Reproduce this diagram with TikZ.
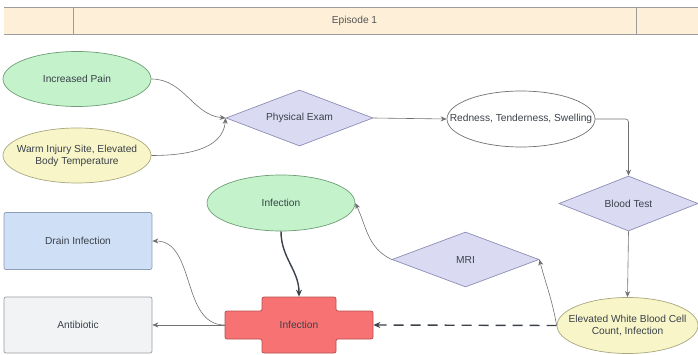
\documentclass[tikz,border=0pt]{standalone}
\usepackage{fontspec}
\setmainfont{Liberation Sans}
\usetikzlibrary{shapes.geometric,arrows.meta,calc}

\definecolor{txt}{HTML}{3A414A}
\definecolor{hdrtxt}{HTML}{555555}
\definecolor{hdrF}{HTML}{FEF0D8}
\definecolor{hdrL}{HTML}{9C9C9C}
\definecolor{greenF}{HTML}{C3F2CB}
\definecolor{greenD}{HTML}{6E9C76}
\definecolor{yelF}{HTML}{F8F6C8}
\definecolor{yelD}{HTML}{A9A77E}
\definecolor{lavF}{HTML}{DADAF3}
\definecolor{lavD}{HTML}{8E8EB4}
\definecolor{blueF}{HTML}{CFDFF6}
\definecolor{blueD}{HTML}{8C9DB8}
\definecolor{grayF}{HTML}{F2F3F5}
\definecolor{grayD}{HTML}{9A9CA0}
\definecolor{redF}{HTML}{F77272}
\definecolor{redD}{HTML}{B84E4E}
\definecolor{wire}{HTML}{707070}
\definecolor{heavy}{HTML}{3A414A}

\tikzset{
  shapebase/.style={inner sep=0pt, text=txt, align=center, line width=0.7pt},
  % negative horizontal padding keeps the ellipse at its fixed size even with long labels
  oval/.style={shapebase, ellipse, inner xsep=-25pt, minimum width=148pt, minimum height=55pt},
  greenoval/.style={oval, fill=greenF, draw=greenD},
  yellowoval/.style={oval, fill=yelF, draw=yelD},
  whiteoval/.style={oval, fill=white, draw=wire},
  decision/.style={shapebase, diamond, aspect=2.6, minimum width=147pt, minimum height=56pt, fill=lavF, draw=lavD},
  card/.style={shapebase, rectangle, rounded corners=2pt, minimum width=148pt, minimum height=56pt},
  wirearrow/.style={draw=wire, line width=0.6pt, -{Stealth[length=6pt,width=5pt]}},
  heavyarrow/.style={draw=heavy, line width=1.4pt, -{Stealth[length=7pt,width=6pt]}},
  dasharrow/.style={draw=heavy, line width=1.4pt, dash pattern=on 10pt off 7pt, -{Stealth[length=7pt,width=6pt]}},
}

\begin{document}
\begin{tikzpicture}[x=1pt, y=1pt, font=\fontsize{10.2}{12}\selectfont]
\useasboundingbox (0,0) rectangle (698,-355);

% header band
\fill[hdrF] (4,-7) rectangle (698,-34);
\draw[hdrL, line width=0.8pt] (4,-7) -- (698,-7) (4,-34) -- (698,-34)
  (73,-7) -- (73,-34) (636,-7) -- (636,-34);
\node[text=hdrtxt, inner sep=0pt] (ep) at (354.5,-20.5) {Episode 1};

% nodes
\node[greenoval] (pain) at (77,-79) {Increased Pain};
\node[yellowoval] (warm) at (77,-155.5) {Warm Injury Site, Elevated\\Body Temperature};
\node[decision] (pe) at (299.5,-118) {Physical Exam};
\node[whiteoval, minimum height=56pt] (rts) at (521,-119) {Redness, Tenderness, Swelling};
\node[decision, minimum width=139pt, minimum height=55pt] (bt) at (628.5,-203.5) {Blood Test};
\node[greenoval, minimum height=56pt] (ginf) at (281,-203) {Infection};
\node[card, fill=blueF, draw=blueD, minimum height=57pt] (drain) at (78,-241) {Drain Infection};
\node[card, fill=grayF, draw=grayD] (anti) at (78,-325) {Antibiotic};
\node[decision, minimum height=55pt] (mri) at (465.5,-259.5) {MRI};
\node[yellowoval, minimum width=141pt, minimum height=56pt] (wbc) at (627.5,-325.5) {Elevated White Blood Cell\\Count, Infection};

% cross-shaped outcome
\coordinate (infc) at (299,-325);
\draw[fill=redF, draw=redD, line width=0.7pt, rounded corners=2pt]
  ($(infc)+(-37,28)$) -- ++(74,0) -- ++(0,-14) -- ++(37,0) -- ++(0,-28)
  -- ++(-37,0) -- ++(0,-14) -- ++(-74,0) -- ++(0,14) -- ++(-37,0)
  -- ++(0,28) -- ++(37,0) -- cycle;
\node[shapebase, minimum width=148pt, minimum height=56pt] (inf) at (infc) {Infection};

% connectors
\draw[wirearrow] (pain.east) to[out=0, in=175] (pe.west);
\draw[wirearrow] (warm.east) to[out=0, in=-95] (pe.west);
\draw[wirearrow] (pe.east) -- (rts.west);
\draw[wirearrow, rounded corners=3pt] (rts.east) -| (bt.north);
\draw[wirearrow] (bt.south) -- (wbc.north);
\draw[dasharrow] (wbc.west) -- (inf.east);
\draw[wirearrow] (wbc.west) to[out=100, in=-75] (mri.east);
\draw[wirearrow] (mri.west) to[out=155, in=-65] (ginf.east);
\draw[heavyarrow] (ginf.south) to[out=-90, in=90] (inf.north);
\draw[wirearrow] (inf.west) to[out=180, in=0] (drain.east);
\draw[wirearrow] (inf.west) -- (anti.east);
\end{tikzpicture}
\end{document}
